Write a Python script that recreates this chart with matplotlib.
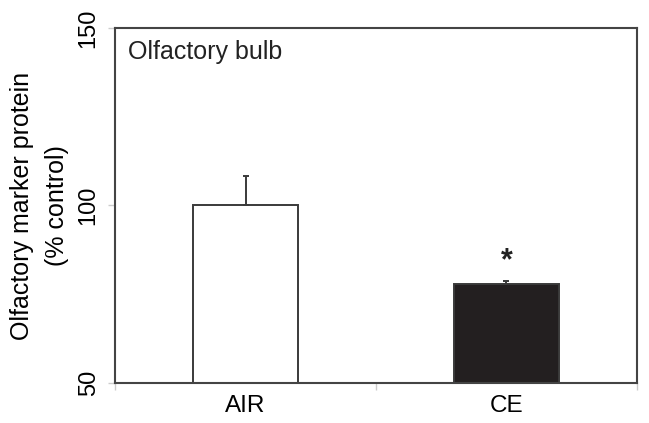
import matplotlib
matplotlib.use("Agg")
import matplotlib.pyplot as plt

# values
groups = ["AIR", "CE"]
means = [100.0, 77.8]
errors = [8.2, 0.9]
colors = ["white", "#231f20"]
y_ticks = [50, 100, 150]

plt.rcParams["font.family"] = ["Liberation Sans", "DejaVu Sans"]

fig = plt.figure(figsize=(6.49, 4.23), dpi=100)
ax = fig.add_axes([0.1772, 0.0946, 0.8043, 0.8392])

x = list(range(len(groups)))
ax.bar(x, [m - 50 for m in means], bottom=50, width=0.405, color=colors,
       edgecolor="#3a3a3a", linewidth=1.4, zorder=2)
# upper error bars only
ax.errorbar(x, means, yerr=[[0, 0], errors], fmt="none", ecolor="#3a3a3a",
            elinewidth=1.4, capsize=2, capthick=1.4, zorder=3)
ax.text(1, means[1] + errors[1] + 1.4, "*", ha="center", va="bottom",
        fontsize=22, fontweight="bold", color="#222222")

ax.set_xlim(-0.5, 1.5)
ax.set_ylim(50, 150)
ax.set_xticks([-0.5, 0.5, 1.5])
ax.set_xticklabels([])
ax.set_xticks(x, minor=True)
ax.set_xticklabels(groups, minor=True, fontsize=17.5)
ax.tick_params(axis="x", which="minor", length=0, pad=9)
ax.tick_params(axis="x", which="major", length=5, color="#cccccc", width=1)
ax.set_yticks(y_ticks)
ax.set_yticklabels([str(t) for t in y_ticks], rotation=90, va="center",
                   fontsize=17)
ax.tick_params(axis="y", length=5, color="#cccccc", width=1, pad=6)

for s in ax.spines.values():
    s.set_color("#444444")
    s.set_linewidth(1.5)

ax.set_ylabel("Olfactory marker protein\n(% control)", fontsize=18,
              labelpad=6, linespacing=1.6)
ax.text(0.024, 0.965, "Olfactory bulb", transform=ax.transAxes, ha="left",
        va="top", fontsize=18, color="#222222")

fig.savefig("out.png", dpi=100)
